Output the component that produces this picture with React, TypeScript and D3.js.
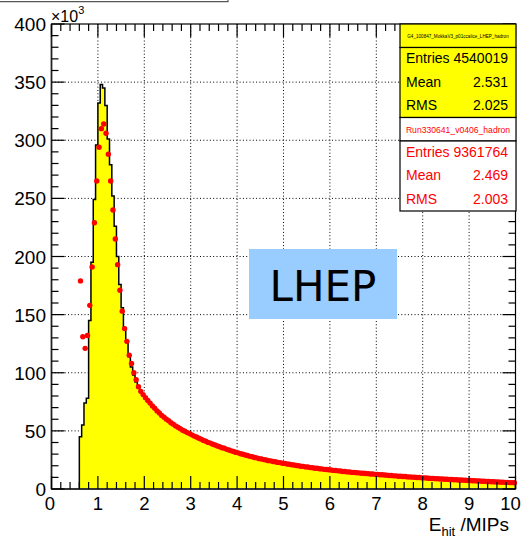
import React from 'react';
import * as d3 from 'd3';

// hit energy spectrum, bins of 0.05 MIP starting at 0.6 (counts in units of 10^3)
const binWidth = 0.05;
const firstBin = 0.6;

// MC (G4 LHEP), peak region 0.60 - 1.85
const mcPeak = [45, 55, 74, 78, 145, 195, 249, 296, 332, 348, 345, 330, 301, 279, 252, 226, 200, 176, 156, 139, 126, 114, 105, 98, 92, 87];
// MC tail 1.90 - 9.95
const mcTail = [
  83.0, 80.4, 77.9, 75.6, 73.3, 71.1, 69.0, 67.0, 65.1, 63.2,
  61.5, 59.8, 58.2, 56.7, 55.3, 54.0, 52.7, 51.5, 50.3, 49.2,
  48.1, 47.1, 46.1, 45.1, 44.2, 43.3, 42.4, 41.6, 40.8, 40.0,
  39.2, 38.4, 37.7, 37.0, 36.3, 35.6, 34.9, 34.3, 33.7, 33.1,
  32.5, 31.9, 31.3, 30.7, 30.2, 29.7, 29.1, 28.6, 28.1, 27.6,
  27.2, 26.7, 26.3, 25.8, 25.4, 25.0, 24.6, 24.2, 23.8, 23.4,
  23.0, 22.6, 22.3, 21.9, 21.6, 21.3, 20.9, 20.6, 20.3, 20.0,
  19.7, 19.4, 19.1, 18.8, 18.5, 18.2, 18.0, 17.7, 17.4, 17.2,
  16.9, 16.7, 16.4, 16.2, 16.0, 15.7, 15.5, 15.3, 15.1, 14.9,
  14.7, 14.5, 14.3, 14.1, 13.9, 13.7, 13.5, 13.3, 13.1, 12.9,
  12.8, 12.6, 12.4, 12.2, 12.1, 11.9, 11.8, 11.6, 11.4, 11.3,
  11.1, 11.0, 10.8, 10.7, 10.5, 10.4, 10.3, 10.1, 10.0, 9.8,
  9.7, 9.6, 9.4, 9.3, 9.2, 9.0, 8.9, 8.8, 8.7, 8.6,
  8.4, 8.3, 8.2, 8.1, 8.0, 7.9, 7.8, 7.7, 7.6, 7.5,
  7.4, 7.3, 7.2, 7.1, 7.0, 6.9, 6.8, 6.7, 6.6, 6.5,
  6.4, 6.3, 6.2, 6.2, 6.1, 6.0, 5.9, 5.8, 5.7, 5.7,
  5.6, 5.5,
];

// data (Run330641), peak region 0.60 - 1.85
const dataPeak = [179, 131, 121, 132, 158, 191, 229, 265, 294, 310, 314, 306, 288, 265, 240, 215, 193, 171, 153, 138, 127, 115, 108, 100, 94, 88];
// data tail 1.90 - 9.95
const dataTail = [
  84.0, 81.2, 78.6, 76.1, 73.9, 71.4, 69.5, 67.2, 65.4, 63.3,
  61.8, 60.1, 58.7, 57.0, 55.8, 54.3, 53.1, 51.9, 50.6, 49.7,
  48.5, 47.7, 46.6, 45.5, 44.7, 43.6, 42.9, 41.8, 41.1, 40.1,
  39.5, 38.5, 37.9, 37.0, 36.4, 35.5, 35.0, 34.1, 33.6, 32.8,
  32.3, 31.5, 31.1, 30.3, 29.9, 29.2, 28.8, 28.1, 27.8, 27.1,
  26.8, 26.1, 25.9, 25.3, 25.0, 24.4, 24.2, 23.6, 23.4, 22.9,
  22.7, 22.2, 22.0, 21.5, 21.3, 20.8, 20.7, 20.2, 20.0, 19.6,
  19.5, 19.0, 18.9, 18.4, 18.3, 17.9, 17.8, 17.4, 17.3, 16.9,
  16.8, 16.5, 16.4, 16.0, 15.9, 15.6, 15.5, 15.1, 15.1, 14.7,
  14.7, 14.3, 14.3, 14.0, 13.9, 13.6, 13.6, 13.3, 13.2, 12.9,
  12.9, 12.6, 12.6, 12.3, 12.2, 12.0, 11.9, 11.6, 11.6, 11.3,
  11.3, 11.0, 11.0, 10.7, 10.7, 10.4, 10.4, 10.2, 10.1, 9.9,
  9.9, 9.6, 9.6, 9.4, 9.3, 9.1, 9.1, 8.9, 8.9, 8.6,
  8.6, 8.4, 8.4, 8.2, 8.2, 8.0, 8.0, 7.8, 7.8, 7.6,
  7.5, 7.3, 7.3, 7.1, 7.1, 6.9, 6.9, 6.7, 6.7, 6.5,
  6.5, 6.3, 6.3, 6.1, 6.1, 5.9, 5.9, 5.7, 5.7, 5.5,
  5.5, 5.4,
];

const mcStats = [['Entries', '4540019'], ['Mean', '2.531'], ['RMS', '2.025']];
const dataStats = [['Entries', '9361764'], ['Mean', '2.469'], ['RMS', '2.003']];
const mcTitle = 'G4_100847_MokkaV3_p01ccalice_LHEP_hadron';
const dataTitle = 'Run330641_v0406_hadron';

const W = 529, H = 540;
const frame = { left: 51.5, right: 515.5, top: 24, bottom: 489 };
const font = 'Liberation Sans, Arial, Helvetica, sans-serif';

const App = () => {
  const x = d3.scaleLinear().domain([0, 10]).range([frame.left, frame.right]);
  const y = d3.scaleLinear().domain([0, 400]).range([frame.bottom, frame.top]);

  const mc = mcPeak.concat(mcTail).map((v, i) => ({ x0: firstBin + i * binWidth, v }));
  const dt = dataPeak.concat(dataTail).map((v, i) => ({ xc: firstBin + (i + 0.5) * binWidth, v }));

  // step outline points
  const steps: [number, number][] = [[0, 0], [firstBin, 0]];
  mc.forEach(b => {
    steps.push([b.x0, b.v]);
    steps.push([b.x0 + binWidth, b.v]);
  });
  steps.push([10, 0]);

  const area = d3.area<[number, number]>().x(d => x(d[0])).y0(y(0)).y1(d => y(d[1]));
  const line = d3.line<[number, number]>().x(d => x(d[0])).y(d => y(d[1]));

  const xMajor = d3.range(0, 11, 1);
  const xMinor = d3.range(0, 10.01, 0.2).filter(v => Math.abs(v - Math.round(v)) > 1e-6);
  const yMajor = d3.range(0, 401, 50);
  const yMinor = d3.range(0, 401, 10).filter(v => v % 50 !== 0);

  const statBox = (top: number, title: string, rows: string[][], color: string, fill: string, titleFill: string, titleSize: number) => (
    <g>
      <rect x={400} y={top} width={116} height={23.5} fill={titleFill} stroke="#000" strokeWidth={1.2} />
      <text x={458} y={top + 12 + titleSize * 0.35} textAnchor="middle" fontSize={titleSize} fill={color} fontFamily={font}>{title}</text>
      <rect x={400} y={top + 23.5} width={116} height={70} fill={fill} stroke="#000" strokeWidth={1.2} />
      {rows.map((r, i) => (
        <g key={r[0]} fontFamily={font} fontSize={14} fill={color}>
          <text x={406} y={top + 39 + i * 23.5}>{r[0]}</text>
          <text x={508} y={top + 39 + i * 23.5} textAnchor="end">{r[1]}</text>
        </g>
      ))}
    </g>
  );

  return (
    <svg width={W} height={H} style={{ position: 'absolute', left: 0, top: 0, background: '#fff' }}>
      {/* remnant of title box */}
      <path d="M0,1.7 H228 V0" fill="none" stroke="#555" strokeWidth={1.2} />

      {/* grid */}
      <g stroke="#000" strokeWidth={1} strokeDasharray="1 2.3">
        {xMajor.filter(v => v > 0 && v < 10).map(v => (
          <line key={'gx' + v} x1={x(v)} x2={x(v)} y1={frame.top} y2={frame.bottom} />
        ))}
        {yMajor.filter(v => v > 0 && v < 400).map(v => (
          <line key={'gy' + v} x1={frame.left} x2={frame.right} y1={y(v)} y2={y(v)} />
        ))}
      </g>

      {/* MC histogram */}
      <path d={area(steps) || ''} fill="#ffff00" />
      <path d={line(steps) || ''} fill="none" stroke="#000" strokeWidth={1.5} />

      {/* data */}
      <g fill="#ff0000">
        {dt.map((d, i) => (
          <circle key={i} cx={x(d.xc)} cy={y(d.v)} r={2.7} />
        ))}
      </g>

      {/* frame and ticks */}
      <rect x={frame.left} y={frame.top} width={frame.right - frame.left} height={frame.bottom - frame.top} fill="none" stroke="#000" strokeWidth={1.2} />
      <line x1={frame.left} x2={frame.right} y1={frame.bottom} y2={frame.bottom} stroke="#333" strokeWidth={2} />
      <line x1={frame.left} x2={frame.left} y1={frame.top} y2={frame.bottom} stroke="#222" strokeWidth={1.6} />
      <g stroke="#000" strokeWidth={1.2}>
        {xMajor.map(v => (
          <g key={'xt' + v}>
            <line x1={x(v)} x2={x(v)} y1={frame.bottom} y2={frame.bottom - 13} />
            <line x1={x(v)} x2={x(v)} y1={frame.top} y2={frame.top + 13} />
          </g>
        ))}
        {xMinor.map(v => (
          <g key={'xm' + v}>
            <line x1={x(v)} x2={x(v)} y1={frame.bottom} y2={frame.bottom - 7} />
            <line x1={x(v)} x2={x(v)} y1={frame.top} y2={frame.top + 7} />
          </g>
        ))}
        {yMajor.map(v => (
          <g key={'yt' + v}>
            <line x1={frame.left} x2={frame.left + 13} y1={y(v)} y2={y(v)} />
            <line x1={frame.right} x2={frame.right - 13} y1={y(v)} y2={y(v)} />
          </g>
        ))}
        {yMinor.map(v => (
          <g key={'ym' + v}>
            <line x1={frame.left} x2={frame.left + 7} y1={y(v)} y2={y(v)} />
            <line x1={frame.right} x2={frame.right - 7} y1={y(v)} y2={y(v)} />
          </g>
        ))}
      </g>

      {/* tick labels */}
      <g fontFamily={font} fill="#000">
        {yMajor.map(v => (
          <text key={'yl' + v} x={46} y={y(v) + 7} fontSize={19} textAnchor="end">{v}</text>
        ))}
        {xMajor.map(v => (
          <text key={'xl' + v} x={v === 10 ? x(v) - 5 : v === 0 ? x(v) - 1.5 : x(v)} y={509.5} fontSize={18.5} textAnchor="middle">{v}</text>
        ))}
      </g>
      <text x={51} y={21.5} fontFamily={font} fontSize={16}>
        ×10<tspan fontSize={11} dy={-8}>3</tspan>
      </text>

      {/* axis title */}
      <text x={509} y={531} textAnchor="end" fontFamily={font} fontSize={19}>
        E<tspan fontSize={13} dy={5}>hit</tspan><tspan dy={-5}> /MIPs</tspan>
      </text>

      {/* stat boxes */}
      {statBox(24, mcTitle, mcStats, '#000', '#ffff00', '#ffff00', 4.6)}
      {statBox(117.5, dataTitle, dataStats, '#ff0000', '#fff', '#fff', 8.6)}

      {/* LHEP label */}
      <rect x={249} y={249} width={148} height={70} fill="#99ccff" />
      <text x={323} y={301} textAnchor="middle" fontFamily="DejaVu Sans, sans-serif" fontSize={42} fill="#000">LHEP</text>
    </svg>
  );
};

export default App;
